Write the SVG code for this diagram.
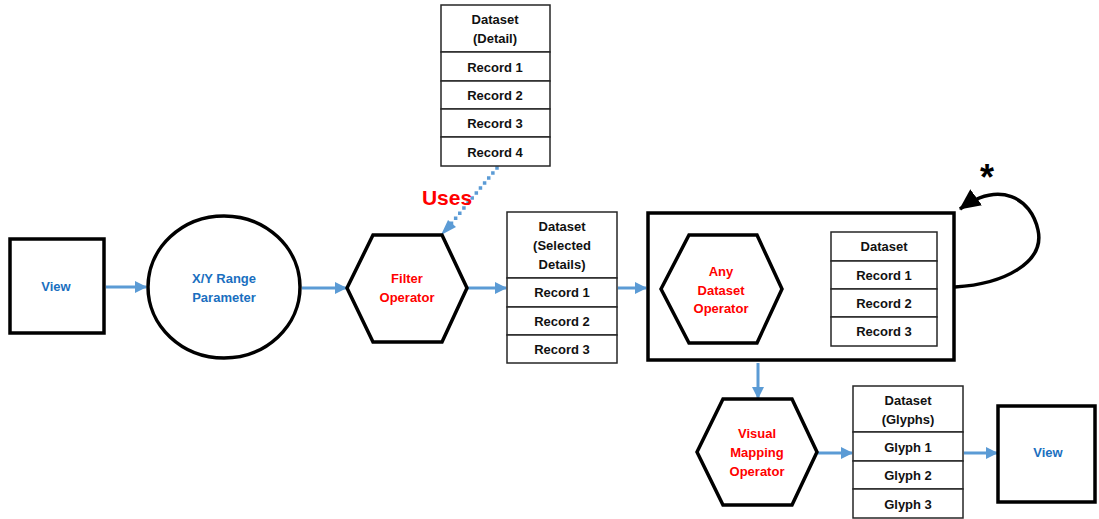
<svg xmlns="http://www.w3.org/2000/svg" width="1099" height="519" viewBox="0 0 1099 519">
  <style>
    .node { fill: #ffffff; stroke: #000000; stroke-width: 3.5; }
    .cell { fill: #ffffff; stroke: #262626; stroke-width: 1.5; }
    .t { font-family: "Liberation Sans", Arial, sans-serif; font-weight: bold; font-size: 13px; text-anchor: middle; }
    .dark { fill: #111111; }
    .blue { fill: #1a6fc0; }
    .red { fill: #ff0000; }
    .flow { fill: none; stroke: #5b9bd5; stroke-width: 3; }
    .dots { fill: none; stroke: #5b9bd5; stroke-width: 3.5; stroke-dasharray: 0 6.5; stroke-linecap: square; }
  </style>
  <defs>
    <marker id="arrowBlue" markerWidth="12" markerHeight="12" refX="11" refY="6" orient="auto" markerUnits="userSpaceOnUse">
      <path d="M0,0 L12,6 L0,12 Z" fill="#5b9bd5"/>
    </marker>
    <marker id="arrowBlack" markerWidth="22" markerHeight="22" refX="20" refY="11" orient="auto" markerUnits="userSpaceOnUse">
      <path d="M0,1 L21,11 L0,21 Z" fill="#000000"/>
    </marker>
  </defs>

  <rect width="1099" height="519" fill="#ffffff"/>

  <!-- connectors -->
  <g id="connectors">
    <line class="flow" x1="106" y1="287" x2="146" y2="287" marker-end="url(#arrowBlue)"/>
    <line class="flow" x1="302" y1="288" x2="346" y2="288" marker-end="url(#arrowBlue)"/>
    <line class="flow" x1="468" y1="288" x2="506" y2="288" marker-end="url(#arrowBlue)"/>
    <line class="flow" x1="618" y1="288" x2="646" y2="288" marker-end="url(#arrowBlue)"/>
    <line class="flow" x1="783" y1="289" x2="830" y2="289" marker-end="url(#arrowBlue)"/>
    <line class="flow" x1="758" y1="363" x2="758" y2="398" marker-end="url(#arrowBlue)"/>
    <line class="flow" x1="818" y1="453" x2="852" y2="453" marker-end="url(#arrowBlue)"/>
    <line class="flow" x1="964" y1="453" x2="997" y2="453" marker-end="url(#arrowBlue)"/>
    <line class="dots" x1="497" y1="168" x2="450" y2="225"/>
    <path d="M448,220 L441,235 L456,227 Z" fill="#5b9bd5"/>
    <path d="M955,287 C1005,284 1045,262 1038,230 C1031,198 1000,180 960,209" fill="none" stroke="#000000" stroke-width="3.5" marker-end="url(#arrowBlack)"/>
    <text x="987" y="190" font-family="Liberation Sans, Arial, sans-serif" font-weight="bold" font-size="36" text-anchor="middle" fill="#000000">*</text>
    <text x="447" y="205" font-family="Liberation Sans, Arial, sans-serif" font-weight="bold" font-size="21" text-anchor="middle" class="red">Uses</text>
  </g>

  <!-- View (input) -->
  <g id="view-in">
    <rect class="node" x="10" y="239" width="94" height="94"/>
    <text class="t blue" x="56" y="291">View</text>
  </g>

  <!-- X/Y Range Parameter -->
  <g id="range-param">
    <ellipse class="node" cx="224" cy="287" rx="76" ry="71"/>
    <text class="t blue" x="224" y="283">X/Y Range</text>
    <text class="t blue" x="224" y="302">Parameter</text>
  </g>

  <!-- Filter Operator -->
  <g id="filter-op">
    <polygon class="node" points="347,288 373,235 442,235 467,288 442,342 373,342"/>
    <text class="t red" x="407" y="283">Filter</text>
    <text class="t red" x="407" y="302">Operator</text>
  </g>

  <!-- Dataset (Detail) -->
  <g id="dataset-detail">
    <rect class="cell" x="441" y="5" width="109" height="47"/>
    <rect class="cell" x="441" y="52" width="109" height="29"/>
    <rect class="cell" x="441" y="81" width="109" height="28"/>
    <rect class="cell" x="441" y="109" width="109" height="28"/>
    <rect class="cell" x="441" y="137" width="109" height="29"/>
    <text class="t dark" x="495" y="24">Dataset</text>
    <text class="t dark" x="495" y="43">(Detail)</text>
    <text class="t dark" x="495" y="72">Record 1</text>
    <text class="t dark" x="495" y="100">Record 2</text>
    <text class="t dark" x="495" y="128">Record 3</text>
    <text class="t dark" x="495" y="157">Record 4</text>
  </g>

  <!-- Dataset (Selected Details) -->
  <g id="dataset-selected">
    <rect class="cell" x="507" y="212" width="110" height="66"/>
    <rect class="cell" x="507" y="278" width="110" height="29"/>
    <rect class="cell" x="507" y="307" width="110" height="28"/>
    <rect class="cell" x="507" y="335" width="110" height="28"/>
    <text class="t dark" x="562" y="231">Dataset</text>
    <text class="t dark" x="562" y="250">(Selected</text>
    <text class="t dark" x="562" y="269">Details)</text>
    <text class="t dark" x="562" y="297">Record 1</text>
    <text class="t dark" x="562" y="326">Record 2</text>
    <text class="t dark" x="562" y="354">Record 3</text>
  </g>

  <!-- Repeatable operator stage -->
  <g id="operator-stage">
    <rect class="node" x="648" y="213" width="306" height="147" stroke-width="3"/>
  </g>

  <!-- Any Dataset Operator -->
  <g id="any-op">
    <polygon class="node" points="661,289 689,235 757,235 782,289 757,343 689,343"/>
    <text class="t red" x="721" y="276">Any</text>
    <text class="t red" x="721" y="295">Dataset</text>
    <text class="t red" x="721" y="313">Operator</text>
  </g>

  <!-- Dataset (output of operator) -->
  <g id="dataset-out">
    <rect class="cell" x="831" y="232" width="106" height="29"/>
    <rect class="cell" x="831" y="261" width="106" height="28"/>
    <rect class="cell" x="831" y="289" width="106" height="28"/>
    <rect class="cell" x="831" y="317" width="106" height="29"/>
    <text class="t dark" x="884" y="251">Dataset</text>
    <text class="t dark" x="884" y="280">Record 1</text>
    <text class="t dark" x="884" y="308">Record 2</text>
    <text class="t dark" x="884" y="336">Record 3</text>
  </g>

  <!-- Visual Mapping Operator -->
  <g id="visual-op">
    <polygon class="node" points="697,452 723,399 792,399 817,452 792,505 723,505"/>
    <text class="t red" x="757" y="438">Visual</text>
    <text class="t red" x="757" y="457">Mapping</text>
    <text class="t red" x="757" y="476">Operator</text>
  </g>

  <!-- Dataset (Glyphs) -->
  <g id="dataset-glyphs">
    <rect class="cell" x="853" y="386" width="110" height="46"/>
    <rect class="cell" x="853" y="432" width="110" height="29"/>
    <rect class="cell" x="853" y="461" width="110" height="28"/>
    <rect class="cell" x="853" y="489" width="110" height="29"/>
    <text class="t dark" x="908" y="405">Dataset</text>
    <text class="t dark" x="908" y="424">(Glyphs)</text>
    <text class="t dark" x="908" y="452">Glyph 1</text>
    <text class="t dark" x="908" y="480">Glyph 2</text>
    <text class="t dark" x="908" y="509">Glyph 3</text>
  </g>

  <!-- View (output) -->
  <g id="view-out">
    <rect class="node" x="998" y="406" width="97" height="96"/>
    <text class="t blue" x="1048" y="457">View</text>
  </g>
</svg>
